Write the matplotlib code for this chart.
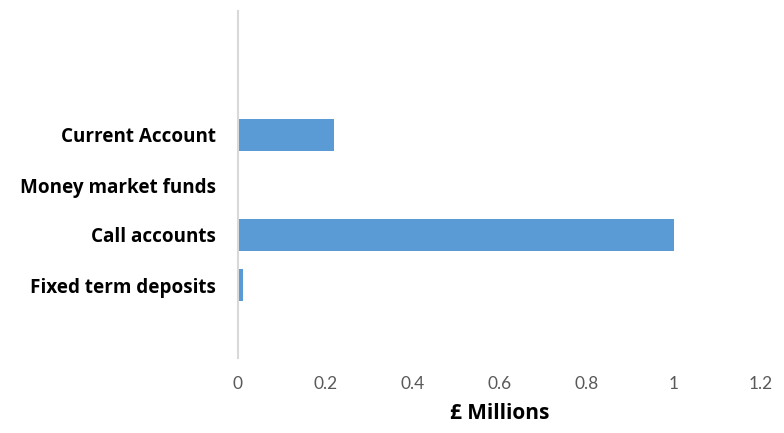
import matplotlib
matplotlib.use("Agg")
import matplotlib.pyplot as plt

# ---------------------------------------------------------------------------
# Data (top to bottom as shown)
# ---------------------------------------------------------------------------
CATEGORIES = ["Current Account", "Money market funds", "Call accounts", "Fixed term deposits"]
VALUES = [0.22, 0.0, 1.0, 0.011]
X_TICKS = [0, 0.2, 0.4, 0.6, 0.8, 1.0, 1.2]
X_TICK_LABELS = ["0", "0.2", "0.4", "0.6", "0.8", "1", "1.2"]

BAR_COLOR = "#5b9bd5"
TEXT_GREY = "#595959"

plt.rcParams["font.family"] = ["Lato", "DejaVu Sans"]
BOLD_FONT = ["Open Sans", "DejaVu Sans"]

fig = plt.figure(figsize=(7.84, 4.33), dpi=100)
ax = fig.add_axes([238 / 784, (433 - 358) / 433, (761 - 238) / 784, (358 - 11) / 433])

n = len(CATEGORIES)
ypos = list(range(n - 1, -1, -1))
ax.barh(ypos, VALUES, height=0.64, color=BAR_COLOR)

ax.set_xlim(0, 1.2)
ax.set_ylim(-1.46, 5.48)
ax.set_xticks(X_TICKS)
ax.set_xticklabels(X_TICK_LABELS, color=TEXT_GREY, fontsize=12.5)
ax.set_yticks(ypos)
ax.set_yticklabels(CATEGORIES, fontsize=13.6, fontweight="bold", color="black",
                   family=BOLD_FONT)
ax.tick_params(axis="both", length=0)
ax.tick_params(axis="x", pad=13)
ax.tick_params(axis="y", pad=16)

for side in ["top", "right", "bottom"]:
    ax.spines[side].set_visible(False)
ax.spines["left"].set_color("#d9d9d9")
ax.spines["left"].set_linewidth(1.5)

ax.set_xlabel("£ Millions", fontsize=15, fontweight="bold", family=BOLD_FONT,
              labelpad=8)

fig.savefig("out.png", dpi=100)
